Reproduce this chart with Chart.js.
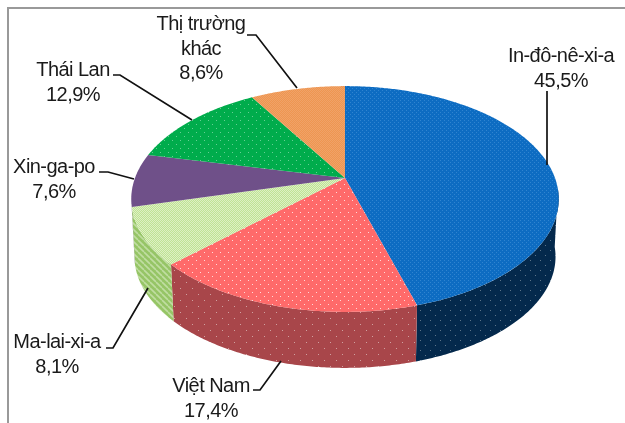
<!DOCTYPE html>
<html><head><meta charset="utf-8">
<script src="https://cdn.jsdelivr.net/npm/chart.js@4"></script>
<style>html,body{margin:0;padding:0;background:#fff}canvas{display:block}</style>
</head><body><canvas id="c" width="625" height="423"></canvas>
<script>
const categories = ["In-đô-nê-xi-a", "Việt Nam", "Ma-lai-xi-a", "Xin-ga-po", "Thái Lan", "Thị trường\nkhác"];
const shares = [45.5, 17.4, 8.1, 7.6, 12.9, 8.6];

// label layout: centre x, first baseline, leader polyline
const labelX = [561, 211, 57, 54, 73, 201];
const labelY = [62, 392, 348, 173, 76, 30];
const leaders = [
  [[547,91],[547,165]],
  [[253,390],[260,390],[281,361]],
  [[106,348],[113,348],[148,288]],
  [[99,172],[108,172],[134,179]],
  [[113,75],[120,75],[192,120]],
  [[247,35],[256,35],[297,88]]
];

function tile(w, h, base, draw) {
  const t = document.createElement('canvas'); t.width = w; t.height = h;
  const g = t.getContext('2d'); g.fillStyle = base; g.fillRect(0,0,w,h); draw(g);
  return g.createPattern(t, 'repeat');
}
function dots(w, h, base, dot) {
  return tile(w, h, base, g => { g.fillStyle = dot;
    g.fillRect(0,0,1,1); g.fillRect(w/2,h/2,1,1); });
}
function checker(base, other) {
  return tile(2, 2, base, g => { g.fillStyle = other; g.fillRect(0,0,1,1); g.fillRect(1,1,1,1); });
}
function stripes(base, other) {
  return tile(6, 6, base, g => { g.strokeStyle = other; g.lineWidth = 1.6;
    for (let i=-6;i<=12;i+=6){ g.beginPath(); g.moveTo(i,0); g.lineTo(i+6,6); g.stroke(); } });
}
const topFills = [
  dots(4, 4, '#0D6CC2', '#2F84D0'),
  dots(8, 8, '#FF6A6A', '#FFD8D8'),
  checker('#BFE394', '#DDF0C4'),
  '#6F5089',
  dots(8, 8, '#00AC4C', '#66CF94'),
  checker('#EE9650', '#F0A268')
];
const sideFills = [
  dots(10, 10, '#04294C', '#5C7488'),
  dots(12, 12, '#A8464A', '#D0A0A0'),
  stripes('#96C566', '#C0DDA2'),
  '#4C3560',
  '#00703A',
  '#A86A3A'
];

const skew = 0.186, sx = 210/178, sy = 109/178, depth = 58, shrink = 0.985;
function project(el, a, d) {
  const w = 1 - skew * Math.sin(a);
  let x = el.outerRadius * sx * Math.cos(a) / w;
  let y = el.outerRadius * sy * Math.sin(a) / w;
  if (d) { x *= shrink; y = y * shrink + depth; }
  return [el.x + x, el.y + y];
}
function trace(ctx, el, a0, a1, d, mv) {
  const n = Math.max(2, Math.ceil(Math.abs(a1 - a0) / 0.01));
  for (let i = 0; i <= n; i++) {
    const p = project(el, a0 + (a1 - a0) * i / n, d);
    if (i === 0 && mv) ctx.moveTo(p[0], p[1]); else ctx.lineTo(p[0], p[1]);
  }
}
const perspectivePie = {
  id: 'perspectivePie',
  beforeDatasetsDraw(chart) {
    const ctx = chart.ctx, arcs = chart.getDatasetMeta(0).data;
    ctx.save();
    arcs.forEach((el, i) => {
      const a0 = Math.max(el.startAngle, 0.1), a1 = Math.min(el.endAngle, 2.95);
      if (a0 >= a1) return;
      ctx.beginPath();
      trace(ctx, el, a0, a1, false, true);
      trace(ctx, el, a1, a0, true, false);
      ctx.closePath();
      ctx.fillStyle = sideFills[i];
      ctx.fill();
    });
    arcs.forEach((el, i) => {
      ctx.beginPath();
      ctx.moveTo(el.x, el.y);
      trace(ctx, el, el.startAngle, el.endAngle, false, false);
      ctx.closePath();
      ctx.fillStyle = topFills[i];
      ctx.fill();
    });
    ctx.restore();
    return false;
  },
  afterDraw(chart) {
    const ctx = chart.ctx;
    ctx.save();
    ctx.strokeStyle = '#999'; ctx.lineWidth = 2;
    ctx.beginPath(); ctx.moveTo(625, 8); ctx.lineTo(8, 8); ctx.lineTo(8, 423); ctx.stroke();
    ctx.strokeStyle = '#111'; ctx.lineWidth = 1.7;
    leaders.forEach(l => { ctx.beginPath(); l.forEach((p, j) => j ? ctx.lineTo(p[0], p[1]) : ctx.moveTo(p[0], p[1])); ctx.stroke(); });
    ctx.fillStyle = '#1a1a1a';
    ctx.font = '20px "Liberation Sans", Arial, sans-serif';
    ctx.letterSpacing = '-0.55px';
    ctx.textAlign = 'center'; ctx.textBaseline = 'alphabetic';
    categories.forEach((c, i) => {
      const lines = c.split('\n').concat(shares[i].toFixed(1).replace('.', ',') + '%');
      lines.forEach((t, j) => ctx.fillText(t, labelX[i], labelY[i] + j * 24.7));
    });
    ctx.restore();
  }
};
new Chart(document.getElementById('c'), {
  type: 'pie',
  data: { labels: categories, datasets: [{ data: shares, backgroundColor: topFills, borderWidth: 0 }] },
  options: {
    responsive: false, animation: false, events: [],
    layout: { padding: { left: 65, bottom: 67 } },
    plugins: { legend: { display: false }, tooltip: { enabled: false } }
  },
  plugins: [perspectivePie]
});
</script></body></html>
